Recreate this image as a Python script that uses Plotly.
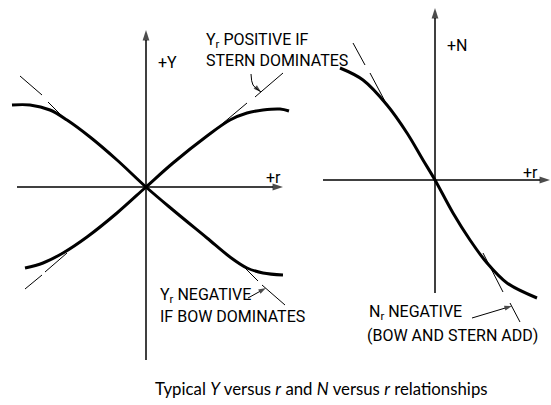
import plotly.graph_objects as go

# ---- Y versus r (left panel) ----
# Y_r positive when the stern dominates: rises through the origin, levels off
r_stern = [-1.21, -1.03, -0.83, -0.59, -0.29, 0.0, 0.27, 0.61, 0.84, 1.01, 1.17, 1.34, 1.43]
y_stern = [-0.81, -0.76, -0.66, -0.50, -0.26, 0.0, 0.24, 0.51, 0.67, 0.74, 0.77, 0.78, 0.76]
# Y_r negative when the bow dominates
r_bow = [-1.34, -1.16, -0.96, -0.79, -0.56, -0.29, 0.0, 0.27, 0.61, 0.84, 1.01, 1.17, 1.37]
y_bow = [0.82, 0.82, 0.77, 0.67, 0.50, 0.27, 0.0, -0.23, -0.51, -0.70, -0.81, -0.86, -0.88]
# slope (tangent) lines at the origin, shown only beyond the curves, dashed
r_tan_left = [-1.26, -1.04, None, -0.98, -0.83, None, 0.76, 1.01, None, 1.09, 1.37, None,
              -1.21, -1.04, None, -1.01, -0.79, None, 0.94, 1.12, None, 1.16, 1.39]
y_tan_left = [1.11, 0.92, None, 0.85, 0.70, None, 0.63, 0.84, None, 0.90, 1.14, None,
              -1.02, -0.88, None, -0.85, -0.66, None, -0.76, -0.94, None, -0.98, -1.18]

# ---- N versus r (right panel) ----
r_n = [-0.95, -0.72, -0.48, -0.28, -0.12, 0.0, 0.18, 0.35, 0.52, 0.72, 1.02]
n_vals = [1.12, 1.00, 0.75, 0.47, 0.20, 0.0, -0.33, -0.60, -0.83, -1.03, -1.18]
r_tan_right = [-0.82, -0.70, None, -0.65, -0.47, None, 0.48, 0.68, None, 0.75, 0.85]
n_tan_right = [1.37, 1.15, None, 1.07, 0.73, None, -0.73, -1.12, None, -1.23, -1.42]

LABEL_FONT = dict(family="Roboto, sans-serif", size=16, color="black")
AXIS_FONT = dict(family="Roboto, sans-serif", size=16, color="black")

fig = go.Figure()


def arrow_line(xs, ys, xaxis, yaxis, width=1.5, head=9, shape="linear"):
    """Polyline ending in a filled arrowhead pointing along its last segment."""
    sizes = [0] * (len(xs) - 1) + [head]
    fig.add_trace(go.Scatter(
        x=xs, y=ys, mode="lines+markers", xaxis=xaxis, yaxis=yaxis,
        line=dict(color="black", width=width, shape=shape),
        marker=dict(symbol="arrow", angleref="previous", size=sizes,
                    color="black", line=dict(width=0)),
        hoverinfo="skip"))


# coordinate axes with arrowheads
arrow_line([0.0, 0.0], [-1.73, 1.57], "x", "y", head=11)
arrow_line([-1.29, 1.37], [0.0, 0.0], "x", "y", head=11)
arrow_line([0.0, 0.0], [-1.13, 1.72], "x2", "y2", head=11)
arrow_line([-1.12, 1.15], [0.0, 0.0], "x2", "y2", head=11)

fig.add_trace(go.Scatter(x=r_tan_left, y=y_tan_left, mode="lines",
                         line=dict(color="black", width=1), xaxis="x", yaxis="y"))
fig.add_trace(go.Scatter(x=r_stern, y=y_stern, mode="lines", line_shape="spline",
                         line=dict(color="black", width=3), xaxis="x", yaxis="y"))
fig.add_trace(go.Scatter(x=r_bow, y=y_bow, mode="lines", line_shape="spline",
                         line=dict(color="black", width=3), xaxis="x", yaxis="y"))

fig.add_trace(go.Scatter(x=r_tan_right, y=n_tan_right, mode="lines",
                         line=dict(color="black", width=1), xaxis="x2", yaxis="y2"))
fig.add_trace(go.Scatter(x=r_n, y=n_vals, mode="lines", line_shape="spline",
                         line=dict(color="black", width=3), xaxis="x2", yaxis="y2"))

# pointers from the notes to the slope lines
arrow_line([1.05, 1.07, 1.15], [1.13, 1.02, 0.95], "x", "y", width=1, head=8, shape="spline")
arrow_line([1.02, 1.20], [-1.11, -1.01], "x", "y", width=1, head=8)
arrow_line([0.37, 0.77], [-1.38, -1.26], "x2", "y2", width=1, head=8)

annotations = []


def label(xref, yref, x, y, text, font=LABEL_FONT, xanchor="left"):
    annotations.append(dict(xref=xref, yref=yref, x=x, y=y, text=text, showarrow=False,
                            font=font, xanchor=xanchor, yanchor="middle"))


label("x", "y", 0.10, 1.25, "+Y", AXIS_FONT)
label("x", "y", 1.18, 0.10, "+r", AXIS_FONT)
label("x2", "y2", 0.10, 1.35, "+N", AXIS_FONT)
label("x2", "y2", 0.86, 0.08, "+r", AXIS_FONT)

# notes on the sign of the slopes
label("x", "y", 0.58, 1.47, "Y<sub>r</sub> POSITIVE IF")
label("x", "y", 0.58, 1.27, "STERN DOMINATES")
label("x", "y", 0.12, -1.08, "Y<sub>r</sub> NEGATIVE")
label("x", "y", 0.12, -1.29, "IF BOW DOMINATES")
label("x2", "y2", -0.68, -1.32, "N<sub>r</sub> NEGATIVE")
label("x2", "y2", -0.70, -1.55, "(BOW AND STERN ADD)")

# caption
annotations.append(dict(xref="paper", yref="paper", x=0.5826, y=0.040,
                        text="Typical <i>Y</i> versus <i>r</i> and <i>N</i> versus <i>r</i> relationships",
                        showarrow=False, xanchor="center", yanchor="middle",
                        font=dict(family="Lato, Open Sans, sans-serif", size=16.8, color="black")))

hidden = dict(visible=False, showgrid=False, zeroline=False, fixedrange=True)

fig.update_layout(
    width=551, height=405,
    margin=dict(l=0, r=0, t=0, b=0),
    paper_bgcolor="white", plot_bgcolor="white",
    showlegend=False,
    xaxis=dict(domain=[0, 300 / 551], range=[-1.46, 1.54], **hidden),
    yaxis=dict(domain=[0, 1], range=[-2.18, 1.87], anchor="x", **hidden),
    xaxis2=dict(domain=[300 / 551, 1], range=[-1.35, 1.16], anchor="y2", **hidden),
    yaxis2=dict(domain=[0, 1], range=[-2.25, 1.80], anchor="x2", **hidden),
    annotations=annotations,
)

fig.write_html("out.html")
